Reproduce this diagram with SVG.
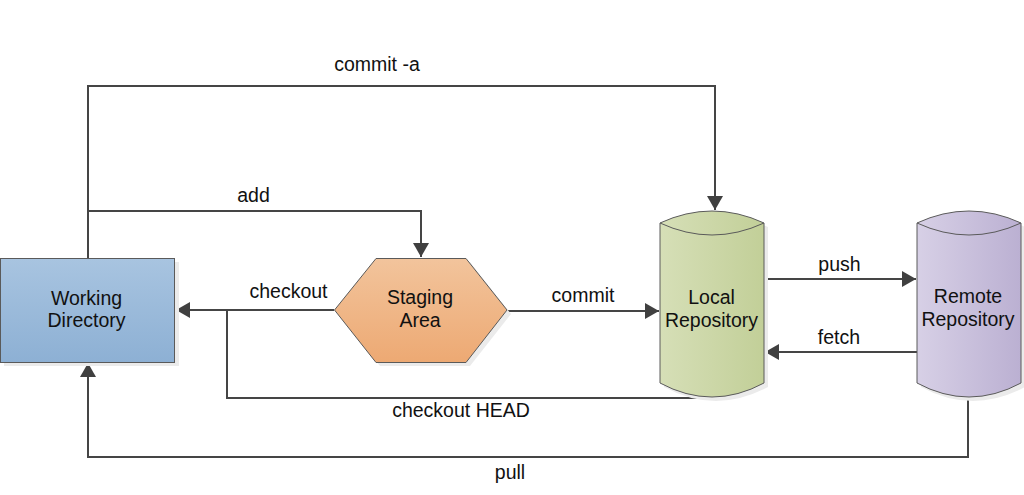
<svg xmlns="http://www.w3.org/2000/svg" width="1024" height="495" viewBox="0 0 1024 495">
<defs>
<linearGradient id="gWD" x1="0" y1="0" x2="0" y2="1"><stop offset="0" stop-color="#a8c4e0"/><stop offset="1" stop-color="#8db0d4"/></linearGradient>
<linearGradient id="gSA" x1="0" y1="0" x2="0" y2="1"><stop offset="0" stop-color="#f2c49c"/><stop offset="1" stop-color="#eda973"/></linearGradient>
<linearGradient id="gLR" x1="0" y1="0" x2="1" y2="0"><stop offset="0" stop-color="#d6dfb7"/><stop offset="1" stop-color="#c2cf98"/></linearGradient>
<linearGradient id="gRR" x1="0" y1="0" x2="1" y2="0"><stop offset="0" stop-color="#d7d0e6"/><stop offset="1" stop-color="#bbb0d2"/></linearGradient>
<marker id="arr" markerUnits="userSpaceOnUse" markerWidth="14" markerHeight="16" refX="14" refY="8" orient="auto"><path d="M0,0 L14,8 L0,16 Z" fill="#404040"/></marker>
</defs>
<style>
.conn{fill:none;stroke:#454545;stroke-width:2}
.node{stroke:#5a5a5a;stroke-width:1}
.sh{fill:#ebebeb}
text{font-family:"Liberation Sans",Arial,sans-serif;font-size:19.5px;fill:#111111;text-anchor:middle}
</style>
<g id="connectors">
<path class="conn" d="M88,258 V86 H715 V210" marker-end="url(#arr)"/>
<path class="conn" d="M88,211 H421 V257" marker-end="url(#arr)"/>
<path class="conn" d="M334,310 H176" marker-end="url(#arr)"/>
<path class="conn" d="M712,398 H227 V310"/>
<path class="conn" d="M507,311 H659" marker-end="url(#arr)"/>
<path class="conn" d="M764,279 H916" marker-end="url(#arr)"/>
<path class="conn" d="M917,352 H765" marker-end="url(#arr)"/>
<path class="conn" d="M968,397 V457 H88 V363" marker-end="url(#arr)"/>
<text x="377" y="71">commit -a</text>
<text x="253.5" y="202">add</text>
<text x="288.5" y="298">checkout</text>
<text x="583" y="302">commit</text>
<text x="839.5" y="271">push</text>
<text x="839" y="344">fetch</text>
<text x="461" y="417">checkout HEAD</text>
<text x="510" y="479">pull</text>
</g>
<g id="working-directory">
<rect class="sh" x="4" y="262" width="175" height="104"/>
<rect class="node" x="0.5" y="258.5" width="174" height="104" fill="url(#gWD)"/>
<text x="86.5" y="305">Working</text>
<text x="86.5" y="327">Directory</text>
</g>
<g id="staging-area">
<path class="sh" d="M338,314 L380,262 L470,262 L511,314 L470,366 L380,366 Z"/>
<path class="node" d="M334.5,310 L376,258.5 L466,258.5 L507,310 L466,362.5 L376,362.5 Z" fill="url(#gSA)"/>
<text x="420" y="304">Staging</text>
<text x="420" y="327">Area</text>
</g>
<g id="local-repository">
<path class="sh" d="M664,227 Q716,203 768,227 L768,387 Q716,415 664,387 Z"/>
<path class="node" d="M660,223 Q712,199 764,223 L764,383 Q712,411 660,383 Z" fill="url(#gLR)"/>
<path class="node" d="M660,223 Q712,247 764,223" fill="none"/>
<text x="711.5" y="304">Local</text>
<text x="711.5" y="327">Repository</text>
</g>
<g id="remote-repository">
<path class="sh" d="M921,227 Q973,203 1025,227 L1025,387 Q973,415 921,387 Z"/>
<path class="node" d="M917,223 Q969,199 1021,223 L1021,383 Q969,411 917,383 Z" fill="url(#gRR)"/>
<path class="node" d="M917,223 Q969,247 1021,223" fill="none"/>
<text x="968" y="303">Remote</text>
<text x="968" y="326">Repository</text>
</g>
</svg>
